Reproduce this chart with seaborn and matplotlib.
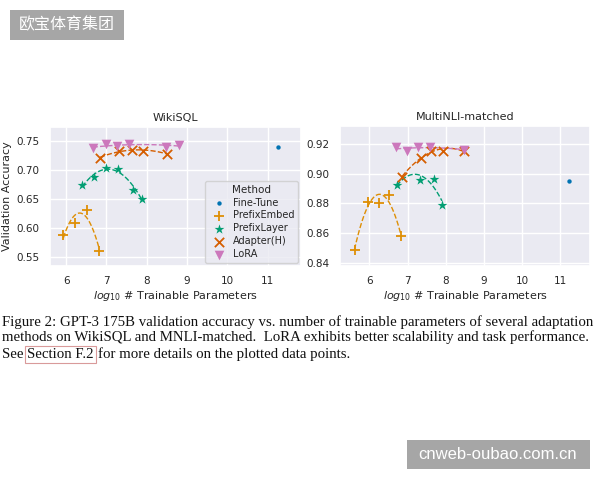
import numpy as np
import pandas as pd
import matplotlib
matplotlib.use("Agg")
import matplotlib.pyplot as plt
import seaborn as sns

# WikiSQL
wiki_x = {
    "Fine-Tune": [11.25],
    "PrefixEmbed": [5.93, 6.22, 6.51, 6.82],
    "PrefixLayer": [6.40, 6.70, 6.99, 7.30, 7.65, 7.89],
    "Adapter(H)": [6.84, 7.32, 7.63, 7.90, 8.50],
    "LoRA": [6.66, 6.98, 7.27, 7.57, 8.47, 8.79],
}
wiki_y = {
    "Fine-Tune": [0.739],
    "PrefixEmbed": [0.587, 0.608, 0.631, 0.560],
    "PrefixLayer": [0.673, 0.687, 0.703, 0.702, 0.666, 0.650],
    "Adapter(H)": [0.721, 0.733, 0.734, 0.733, 0.728],
    "LoRA": [0.737, 0.745, 0.741, 0.744, 0.740, 0.743],
}
# MultiNLI-matched
mnli_x = {
    "Fine-Tune": [11.24],
    "PrefixEmbed": [5.61, 5.97, 6.24, 6.52, 6.82],
    "PrefixLayer": [6.72, 7.33, 7.68, 7.90],
    "Adapter(H)": [6.86, 7.34, 7.62, 7.92, 8.49],
    "LoRA": [6.70, 6.98, 7.28, 7.59, 8.48],
}
mnli_y = {
    "Fine-Tune": [0.895],
    "PrefixEmbed": [0.849, 0.881, 0.880, 0.886, 0.858],
    "PrefixLayer": [0.8925, 0.8955, 0.8966, 0.879],
    "Adapter(H)": [0.898, 0.9105, 0.9155, 0.9155, 0.915],
    "LoRA": [0.9177, 0.915, 0.918, 0.918, 0.916],
}

methods = ["Fine-Tune", "PrefixEmbed", "PrefixLayer", "Adapter(H)", "LoRA"]
markers = {"Fine-Tune": "o", "PrefixEmbed": "+", "PrefixLayer": "*",
           "Adapter(H)": "x", "LoRA": "v"}
msize = {"Fine-Tune": 10, "PrefixEmbed": 60, "PrefixLayer": 55,
         "Adapter(H)": 45, "LoRA": 48}

sns.set_theme(style="darkgrid", palette="colorblind")
pal = sns.color_palette("colorblind")
colors = dict(zip(methods, pal))

fig = plt.figure(figsize=(6, 4.8), dpi=100)
ax1 = fig.add_axes([50/600, 1-266/480, 251/600, 139/480])
ax2 = fig.add_axes([340/600, 1-266/480, 250/600, 140/480])


def draw(ax, xs, ys, title, show_legend):
    for m in methods:
        d = pd.DataFrame({"x": xs[m], "y": ys[m]})
        lw = 1.3 if m in ("PrefixEmbed", "Adapter(H)") else 0
        sns.scatterplot(data=d, x="x", y="y", ax=ax, color=colors[m],
                        marker=markers[m], s=msize[m], linewidth=lw,
                        edgecolor=colors[m] if lw == 0 else None,
                        label=m, zorder=3)
        if len(d) > 2:
            sns.regplot(data=d, x="x", y="y", ax=ax, order=2, ci=None,
                        scatter=False, truncate=True,
                        line_kws=dict(color=colors[m], ls="--", lw=1.0))
    ax.set_title(title, fontsize=8, pad=4)
    ax.set_xlabel(r"$log_{10}$ # Trainable Parameters", fontsize=8, labelpad=2)
    ax.set_ylabel("")
    ax.set_xticks([6, 7, 8, 9, 10, 11])
    ax.tick_params(labelsize=7.5, pad=1.5)
    if show_legend:
        ax.legend(title="Method", fontsize=7, title_fontsize=7.5,
                  loc="lower right", borderaxespad=0.3,
                  handletextpad=0.4, labelspacing=0.3)
    else:
        ax.get_legend().remove()


draw(ax1, wiki_x, wiki_y, "WikiSQL", True)
ax1.set_xlim(5.6, 11.83)
ax1.set_ylim(0.534, 0.774)
ax1.set_yticks([0.55, 0.60, 0.65, 0.70, 0.75])
ax1.set_ylabel("Validation Accuracy", fontsize=8, labelpad=3)

draw(ax2, mnli_x, mnli_y, "MultiNLI-matched", False)
ax2.set_xlim(5.23, 11.78)
ax2.set_ylim(0.838, 0.932)
ax2.set_yticks([0.84, 0.86, 0.88, 0.90, 0.92])

# caption
lines = [
    "Figure 2: GPT-3 175B validation accuracy vs. number of trainable parameters of several adaptation",
    "methods on WikiSQL and MNLI-matched.  LoRA exhibits better scalability and task performance.",
]
renderer = fig.canvas.get_renderer()
x0, x1 = 2, 592
probe = fig.text(0, 0, lines[0], family="Liberation Serif", fontsize=11)
fs = 11 * (x1 - x0) / probe.get_window_extent(renderer).width
probe.remove()
cap_font = dict(family="Liberation Serif", fontsize=fs, color="#111111")
baselines = [326, 341.5, 358]
for line, yb in zip(lines, baselines):
    fig.text(x0/600, 1-yb/480, line, va="baseline", **cap_font)

yb = baselines[2]
t = fig.text(x0/600, 1-yb/480, "See ", va="baseline", **cap_font)
x = x0 + t.get_window_extent(renderer).width
t = fig.text(x/600, 1-yb/480, "Section F.2", va="baseline", **cap_font,
             bbox=dict(boxstyle="square,pad=0.12", fc="none", ec="#d99a9a", lw=0.8))
x += t.get_window_extent(renderer).width + 4
fig.text(x/600, 1-yb/480, "for more details on the plotted data points.",
         va="baseline", **cap_font)

# watermarks
wm = dict(color="white", va="center", ha="center")
fig.patches.append(plt.Rectangle((10/600, 1-40/480), 114/600, 30/480,
                                 transform=fig.transFigure, fc="#a6a6a6", ec="none"))
fig.text(67/600, 1-25/480, "欧宝体育集团", fontsize=11.5,
         family=["Noto Sans CJK SC", "DejaVu Sans"], **wm)
fig.patches.append(plt.Rectangle((407/600, 1-469/480), 183/600, 29/480,
                                 transform=fig.transFigure, fc="#a6a6a6", ec="none"))
fig.text(498/600, 1-454.5/480, "cnweb-oubao.com.cn", fontsize=12,
         family=["Liberation Sans"], **wm)

fig.savefig("out.png", dpi=100)
